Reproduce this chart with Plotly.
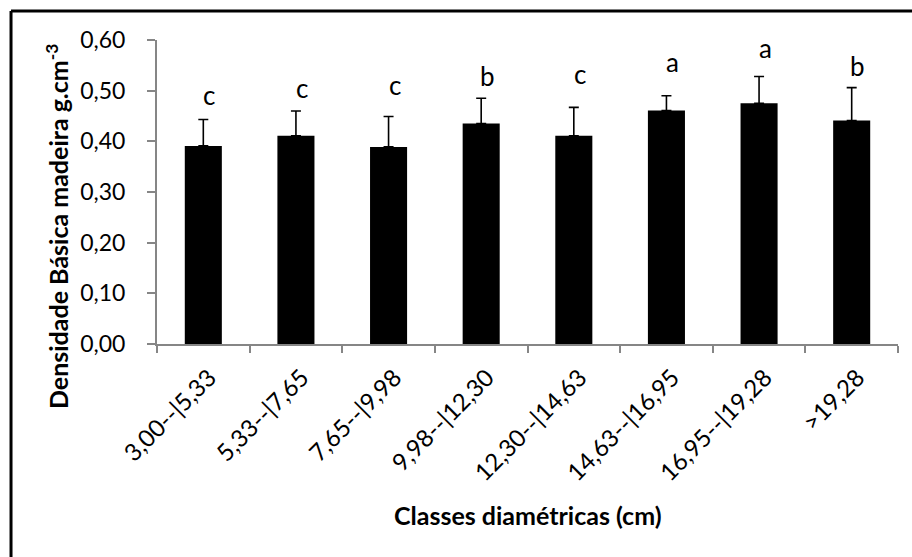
import plotly.graph_objects as go

categories = ["3,00--|5,33", "5,33--|7,65", "7,65--|9,98", "9,98--|12,30",
              "12,30--|14,63", "14,63--|16,95", "16,95--|19,28", ">19,28"]
density = [0.391, 0.411, 0.389, 0.435, 0.411, 0.461, 0.475, 0.441]
std_dev = [0.052, 0.049, 0.060, 0.050, 0.056, 0.029, 0.053, 0.065]
letters = ["c", "c", "c", "b", "c", "a", "a", "b"]
letter_y = [0.468, 0.482, 0.487, 0.505, 0.509, 0.533, 0.560, 0.525]
y_ticks = [0.0, 0.1, 0.2, 0.3, 0.4, 0.5, 0.6]
y_tick_labels = ["0,00", "0,10", "0,20", "0,30", "0,40", "0,50", "0,60"]

FONT = "Lato"
AXIS_GRAY = "#868686"

fig = go.Figure()
fig.add_trace(go.Bar(
    x=categories, y=density,
    marker=dict(color="black", line=dict(width=0)),
    error_y=dict(type="data", array=std_dev, arrayminus=[0] * len(std_dev),
                 symmetric=False, color="black", thickness=1.6, width=5),
    showlegend=False,
))

annotations = []
for c, l, ly in zip(categories, letters, letter_y):
    annotations.append(dict(x=c, y=ly, xref="x", yref="y", text=l, showarrow=False,
                            xanchor="center", yanchor="bottom", xshift=6, yshift=-6,
                            font=dict(family=FONT, size=26, color="black")))

annotations.append(dict(x=-0.135, y=0.388, xref="paper", yref="paper",
                        text="<b>Densidade Básica madeira g.cm<sup>-3</sup></b>",
                        textangle=-90, showarrow=False, xanchor="center", yanchor="middle",
                        font=dict(family=FONT, size=25, color="black")))
annotations.append(dict(x=0.5, y=-0.5625, xref="paper", yref="paper",
                        text="<b>Classes diamétricas (cm)</b>",
                        showarrow=False, xanchor="center", yanchor="middle",
                        font=dict(family=FONT, size=25, color="black")))

shapes = [
    dict(type="line", xref="paper", yref="paper", x0=-0.197, x1=1.03, y0=1.0954, y1=1.0954,
         line=dict(color="black", width=3)),
    dict(type="line", xref="paper", yref="paper", x0=-0.197, x1=-0.197, y0=1.0954, y1=-0.72,
         line=dict(color="black", width=3)),
]

fig.update_layout(
    width=912, height=557,
    margin=dict(l=157, r=14, t=40, b=213),
    paper_bgcolor="white", plot_bgcolor="white",
    bargap=0.6,
    font=dict(family=FONT, size=22, color="black"),
    annotations=annotations,
    shapes=shapes,
    xaxis=dict(
        type="category", tickangle=-45, tickson="boundaries",
        ticks="outside", ticklen=7, tickwidth=2, tickcolor=AXIS_GRAY,
        showline=True, linecolor=AXIS_GRAY, linewidth=2,
        showgrid=False, tickfont=dict(family=FONT, size=24, color="black"),
        ticklabelshift=6, ticklabelstandoff=8,
    ),
    yaxis=dict(
        range=[0, 0.6], tickvals=y_ticks, ticktext=y_tick_labels,
        ticks="outside", ticklen=8, tickwidth=2, tickcolor=AXIS_GRAY,
        showline=True, linecolor=AXIS_GRAY, linewidth=2,
        showgrid=False, zeroline=False, ticklabelstandoff=17,
        tickfont=dict(family=FONT, size=23, color="black"),
    ),
)

fig.write_html("out.html")
